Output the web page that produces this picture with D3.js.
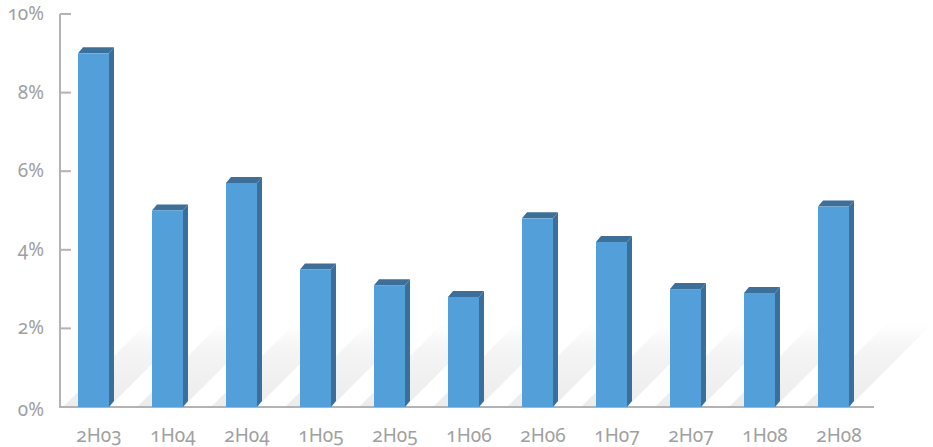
<!DOCTYPE html>
<html>
<head>
<meta charset="utf-8">
<script src="https://cdn.jsdelivr.net/npm/d3@7"></script>
<style>
  html, body { margin: 0; padding: 0; background: #fff; }
  svg text { font-family: "Noto Sans", sans-serif; font-variant-numeric: oldstyle-nums; font-feature-settings: "onum" 1; }
</style>
</head>
<body>
<svg id="chart" width="933" height="447"></svg>
<script>
// Half-year periods and their growth rates (%)
const periods = ["2H03", "1H04", "2H04", "1H05", "2H05", "1H06", "2H06", "1H07", "2H07", "1H08", "2H08"];
const rates = [9.0, 5.0, 5.7, 3.5, 3.1, 2.8, 4.8, 4.2, 3.0, 2.9, 5.1];
const yTicks = [0, 2, 4, 6, 8, 10];

const svg = d3.select("#chart");
const plotLeft = 60, plotRight = 874, plotTop = 14, plotBottom = 407;

const x = d3.scaleBand().domain(periods).range([plotLeft, plotRight]).paddingInner(0.5).paddingOuter(0.25);
const y = d3.scaleLinear().domain([0, 10]).range([plotBottom, plotTop]);

const frontW = 31, depthX = 5, depthY = 6;
const axisColor = "#b3b3b3", textColor = "#a0a0a0";

// floor shadow gradient
const defs = svg.append("defs");
const grad = defs.append("linearGradient").attr("id", "shade")
  .attr("x1", 0).attr("y1", 1).attr("x2", 0).attr("y2", 0);
grad.append("stop").attr("offset", 0).attr("stop-color", "#ececec");
grad.append("stop").attr("offset", 0.7).attr("stop-color", "#f5f5f5");
grad.append("stop").attr("offset", 1).attr("stop-color", "#ffffff");

const shadowH = 84, lean = 15;
const barX = d => x(d) + x.bandwidth() / 2 - (frontW + depthX) / 2 - 1;

svg.append("g").selectAll("path").data(periods).join("path")
  .attr("fill", "url(#shade)")
  .attr("d", d => {
    const x0 = barX(d);
    return `M${x0 - lean},${plotBottom} L${x0 + frontW},${plotBottom} L${x0 + frontW + shadowH},${plotBottom - shadowH} L${x0 - lean + shadowH},${plotBottom - shadowH} Z`;
  });

// axes
svg.append("line").attr("x1", plotLeft).attr("x2", plotLeft).attr("y1", plotTop).attr("y2", plotBottom)
  .attr("stroke", axisColor).attr("stroke-width", 2);
svg.append("line").attr("x1", plotLeft - 1).attr("x2", plotRight).attr("y1", plotBottom).attr("y2", plotBottom)
  .attr("stroke", axisColor).attr("stroke-width", 2);

svg.append("g").selectAll("line").data(yTicks.filter(t => t > 0)).join("line")
  .attr("x1", plotLeft).attr("x2", plotLeft + 11)
  .attr("y1", d => y(d)).attr("y2", d => y(d))
  .attr("stroke", axisColor).attr("stroke-width", 2);

svg.append("g").selectAll("text").data(yTicks).join("text")
  .attr("x", 44).attr("y", d => y(d) + (d === 0 ? 9 : 6))
  .attr("text-anchor", "end").attr("fill", textColor).attr("font-size", 19)
  .text(d => d + "%");

svg.append("g").selectAll("text").data(periods).join("text")
  .attr("x", d => x(d) + x.bandwidth() / 2 + 2).attr("y", 442)
  .attr("text-anchor", "middle").attr("fill", textColor).attr("font-size", 19)
  .text(d => d);

// 3D columns: side face, top face, front face
const bars = svg.append("g").selectAll("g").data(periods.map((p, i) => ({ p, v: rates[i] }))).join("g");

bars.append("path").attr("fill", "#3b6f9b")
  .attr("d", d => {
    const x0 = barX(d.p) + frontW, yt = y(d.v);
    return `M${x0},${yt} L${x0 + depthX},${yt - depthY} L${x0 + depthX},${plotBottom - depthY} L${x0},${plotBottom} Z`;
  });

bars.append("path").attr("fill", "#3d6f99")
  .attr("d", d => {
    const x0 = barX(d.p), yt = y(d.v);
    return `M${x0},${yt} L${x0 + depthX},${yt - depthY} L${x0 + frontW + depthX},${yt - depthY} L${x0 + frontW},${yt} Z`;
  });

bars.append("rect").attr("fill", "#539fd9")
  .attr("x", d => barX(d.p)).attr("y", d => y(d.v))
  .attr("width", frontW).attr("height", d => plotBottom - y(d.v));
</script>
</body>
</html>
